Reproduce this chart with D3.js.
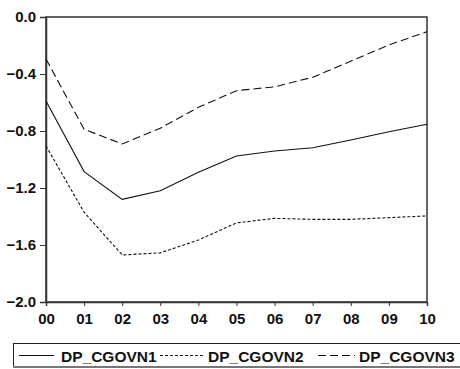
<!DOCTYPE html>
<html>
<head>
<meta charset="utf-8">
<script src="https://cdn.jsdelivr.net/npm/d3@7"></script>
<style>
  body { margin: 0; background: #fff; }
  text { font-family: "Liberation Sans", Arial, sans-serif; font-weight: bold; }
</style>
</head>
<body>
<script>
// periods and series
const periods = ['00', '01', '02', '03', '04', '05', '06', '07', '08', '09', '10']
const cgovn1 = [-0.59, -1.085, -1.28, -1.22, -1.09, -0.975, -0.94, -0.917, -0.863, -0.805, -0.753]
const cgovn2 = [-0.905, -1.37, -1.67, -1.655, -1.565, -1.445, -1.413, -1.42, -1.42, -1.408, -1.396]
const cgovn3 = [-0.295, -0.788, -0.891, -0.78, -0.634, -0.517, -0.49, -0.423, -0.31, -0.196, -0.103]
const yTicks = [0, -0.4, -0.8, -1.2, -1.6, -2.0]

const w = 460
const h = 369
const margin = { left: 46, right: 33, top: 17, bottom: 67 }

const svg = d3.select('body')
    .append('svg')
    .attr('width', w)
    .attr('height', h)

const x = d3.scalePoint()
    .domain(periods)
    .range([margin.left, w - margin.right])
const y = d3.scaleLinear()
    .domain([-2, 0])
    .range([h - margin.bottom, margin.top])

// frame
svg.append('rect')
    .attr('x', margin.left)
    .attr('y', margin.top)
    .attr('width', w - margin.left - margin.right)
    .attr('height', h - margin.top - margin.bottom)
    .style('fill', 'none')
    .style('stroke', '#333')
    .style('stroke-width', 1.5)

// axes
const yAxis = svg.append('g')
    .attr('transform', `translate(${margin.left},0)`)
    .call(d3.axisLeft(y).tickValues(yTicks).tickFormat(d3.format('.1f')).tickSize(6).tickPadding(4))
const xAxis = svg.append('g')
    .attr('transform', `translate(0,${h - margin.bottom})`)
    .call(d3.axisBottom(x).tickSize(4).tickPadding(7))

;[xAxis, yAxis].forEach(g => {
    g.select('.domain').style('stroke', '#333').style('stroke-width', 1.5)
    g.selectAll('.tick line').style('stroke', '#333')
    g.selectAll('text').style('font-size', '15px').style('fill', '#111')
})

// series
const series = [
    { name: 'DP_CGOVN1', values: cgovn1, dash: null },
    { name: 'DP_CGOVN2', values: cgovn2, dash: '3,2' },
    { name: 'DP_CGOVN3', values: cgovn3, dash: '8,4' }
]

const line = d3.line()
    .x((d, i) => x(periods[i]))
    .y(d => y(d))

svg.selectAll('path.series')
    .data(series)
    .enter()
    .append('path')
    .attr('class', 'series')
    .attr('d', d => line(d.values))
    .style('fill', 'none')
    .style('stroke', '#111')
    .style('stroke-width', 1.1)
    .style('stroke-dasharray', d => d.dash)

// legend
const legend = svg.append('g')
svg.append('rect')
    .attr('x', 13.5)
    .attr('y', 343.5)
    .attr('width', 460)
    .attr('height', 23)
    .style('fill', 'none')
    .style('stroke', '#222')
    .style('stroke-width', 1)
svg.append('line')
    .attr('x1', 13).attr('x2', 460)
    .attr('y1', 367).attr('y2', 367)
    .style('stroke', '#777')
    .style('stroke-width', 2)

const legendX = [[19, 54], [160, 203], [318, 355]]
const legendTextX = [61, 208, 359]
series.forEach((s, i) => {
    legend.append('line')
        .attr('x1', legendX[i][0]).attr('x2', legendX[i][1])
        .attr('y1', 355.5).attr('y2', 355.5)
        .style('stroke', '#111')
        .style('stroke-dasharray', s.dash)
    legend.append('text')
        .attr('x', legendTextX[i])
        .attr('y', 362)
        .style('font-size', '15.5px')
        .style('fill', '#111')
        .text(s.name)
})
</script>
</body>
</html>
